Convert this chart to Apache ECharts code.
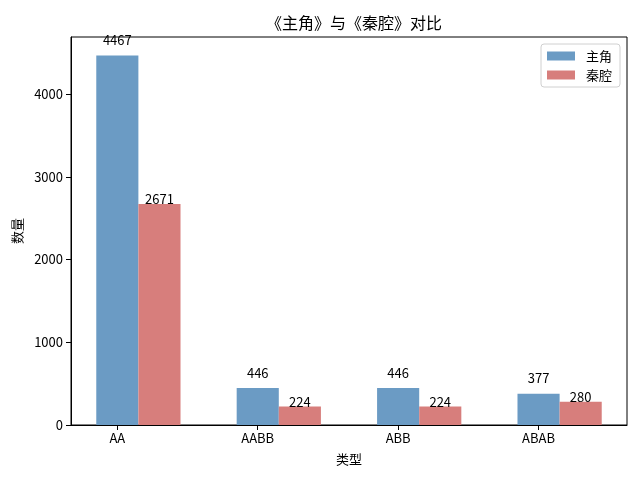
<!DOCTYPE html>
<html><head><meta charset="utf-8">
<script src="https://cdn.jsdelivr.net/npm/echarts@6/dist/echarts.min.js"></script>
<style>html,body{margin:0;padding:0;background:#fff}#c{width:640px;height:480px}</style>
</head><body><div id="c"></div>
<script>
const categories = ['AA', 'AABB', 'ABB', 'ABAB'];
const seriesNames = ['主角', '秦腔'];
const zhujiaoValues = [4467, 446, 446, 377];
const qinqiangValues = [2671, 224, 224, 280];
const yTicks = [0, 1000, 2000, 3000, 4000];

const FONT = '"Noto Sans CJK SC", sans-serif';
const gridL = 71, gridR = 13, gridT = 37, gridB = 55;
const xMin = -0.33, xMax = 3.63;
const plotW = 640 - gridL - gridR;
const barW = plotW / (xMax - xMin) * 0.3;
const barOffset = 0.3;

const chart = echarts.init(document.getElementById('c'), null, {renderer: 'canvas'});
chart.setOption({
  animation: false,
  backgroundColor: '#fff',
  title: {
    text: '《主角》与《秦腔》对比', left: 349, top: 10, textAlign: 'center',
    textStyle: {fontFamily: FONT, fontSize: 16, fontWeight: 'normal', color: '#000'}
  },
  legend: {
    orient: 'vertical', left: 541, top: 44,
    padding: [5, 8, 5, 6], itemGap: 5,
    itemWidth: 28, itemHeight: 9, icon: 'rect',
    borderColor: '#d0d0d0', borderWidth: 1, borderRadius: 3, backgroundColor: '#fff',
    textStyle: {fontFamily: FONT, fontSize: 13, lineHeight: 14, color: '#000', padding: [0, 0, 0, 6]},
    data: seriesNames
  },
  grid: {left: gridL, right: gridR, top: gridT, bottom: gridB, show: true, borderColor: '#000', borderWidth: 1},
  xAxis: {
    type: 'value', min: xMin, max: xMax,
    name: '类型', nameLocation: 'middle', nameGap: 28,
    nameTextStyle: {fontFamily: FONT, fontSize: 13, color: '#000'},
    axisLine: {show: true, onZero: false, lineStyle: {color: '#000'}},
    splitLine: {show: false},
    axisTick: {show: true, customValues: [0, 1, 2, 3], length: 5, lineStyle: {color: '#000'}},
    axisLabel: {
      customValues: [0, 1, 2, 3], fontFamily: FONT, fontSize: 13, color: '#000', margin: 7,
      formatter: v => categories[Math.round(v)]
    }
  },
  yAxis: {
    type: 'value', min: 0, max: 4690,
    name: '数量', nameLocation: 'middle', nameGap: 42, nameRotate: 90,
    nameTextStyle: {fontFamily: FONT, fontSize: 13, color: '#000'},
    axisLine: {show: true, onZero: false, lineStyle: {color: '#000'}},
    splitLine: {show: false},
    axisTick: {show: true, customValues: yTicks, length: 5, lineStyle: {color: '#000'}},
    axisLabel: {customValues: yTicks, fontFamily: FONT, fontSize: 13, color: '#000', margin: 8,
      formatter: v => String(v)}
  },
  series: [
    {
      name: seriesNames[0], type: 'bar', barWidth: barW, barGap: '-100%',
      itemStyle: {color: '#6b9bc4'},
      label: {show: true, position: 'top', distance: 9, fontFamily: FONT, fontSize: 13, color: '#000',
        formatter: p => p.value[1]},
      data: zhujiaoValues.map((v, i) => [i, v])
    },
    {
      name: seriesNames[1], type: 'bar', barWidth: barW, barGap: '-100%',
      itemStyle: {color: '#d77e7c'},
      label: {show: true, position: 'top', distance: -2, fontFamily: FONT, fontSize: 13, color: '#000',
        formatter: p => p.value[1]},
      data: qinqiangValues.map((v, i) => [i + barOffset, v])
    }
  ]
});
</script></body></html>
